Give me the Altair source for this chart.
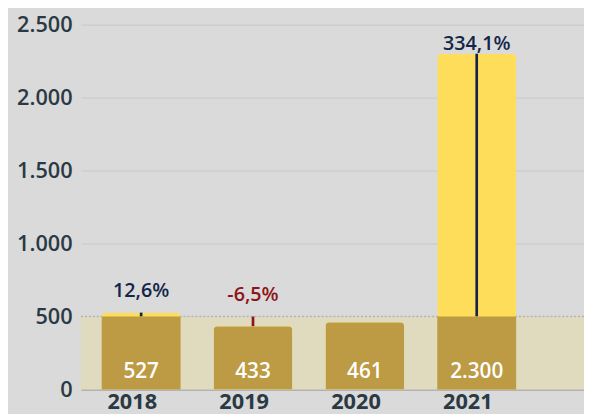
import altair as alt
import pandas as pd

# ---- data ----
years = ["2018", "2019", "2020", "2021"]
values = [527, 433, 461, 2300]
changes = [12.6, -6.5, None, 334.1]   # percent change labels (2020 has none)
threshold = [500]
y_ticks = [0, 500, 1000, 1500, 2000, 2500]

df = pd.DataFrame({"year": years, "value": values, "change": changes})
band_df = pd.DataFrame({"threshold": threshold})

W, H = 510, 370
FONT = "Open Sans"
TXT = "#2b3944"

x_scale = alt.Scale(domain=years, paddingInner=0.295, paddingOuter=0.396, align=0.234)
y_scale = alt.Scale(domain=[0, 2500], nice=False, zero=True)

x_axis = alt.Axis(title=None, labelAngle=0, labelFont=FONT, labelFontSize=22,
                  labelFontWeight=700, labelColor=TXT, labelOffset=-9, labelPadding=2,
                  ticks=False, domainColor="#a8a8a8", domainWidth=1.5, grid=False)
y_axis = alt.Axis(title=None, values=y_ticks,
                  labelExpr="replace(format(datum.value, ','), ',', '.')",
                  labelFont=FONT, labelFontSize=22, labelFontWeight=600,
                  labelColor=TXT, labelPadding=9, ticks=False, domain=False,
                  gridColor="#c8c8c8", gridWidth=1)

X = alt.X("year:N", scale=x_scale, sort=years, axis=x_axis)
COLOR = alt.Color("sign:N", scale=alt.Scale(domain=["pos", "neg"], range=["#13264a", "#8c151b"]), legend=None)

base = alt.Chart(df)

band = alt.Chart(band_df).transform_calculate(zero="0").mark_rect(color="#e0dbbf").encode(
    x=alt.value(0), x2=alt.value(W),
    y=alt.Y("zero:Q", scale=y_scale, axis=y_axis),
    y2=alt.Y2("threshold:Q"),
)

dash = alt.Chart(band_df).mark_rule(color="#b3b3b3", strokeDash=[2, 2], strokeWidth=1.5).encode(
    x=alt.value(0), x2=alt.value(W),
    y=alt.Y("threshold:Q", scale=y_scale, axis=y_axis),
)

yellow = base.mark_bar(color="#fedd5a", cornerRadiusTopLeft=4, cornerRadiusTopRight=4).encode(
    x=X, y=alt.Y("value:Q", scale=y_scale, axis=y_axis),
)

rules = base.transform_filter("isValid(datum.change)").transform_calculate(
    thr=str(threshold[0]),
    sign="datum.change < 0 ? 'neg' : 'pos'",
).mark_rule(strokeWidth=2.7).encode(
    x=X,
    y=alt.Y("value:Q", scale=y_scale, axis=y_axis),
    y2=alt.Y2("thr:Q"),
    color=COLOR,
)

dark_low = base.transform_filter(f"datum.value <= {threshold[0]}").mark_bar(
    color="#bd9a44", cornerRadiusTopLeft=4, cornerRadiusTopRight=4).encode(
    x=X, y=alt.Y("value:Q", scale=y_scale, axis=y_axis),
)
dark_high = base.transform_filter(f"datum.value > {threshold[0]}").transform_calculate(
    low=str(threshold[0])).mark_bar(color="#bd9a44").encode(
    x=X, y=alt.Y("low:Q", scale=y_scale, axis=y_axis),
)

value_text = base.transform_calculate(
    zero="0", lbl="replace(format(datum.value, ','), ',', '.')"
).mark_text(color="white", font=FONT, fontSize=21, fontWeight=600, baseline="middle", dy=-18).encode(
    x=X, y=alt.Y("zero:Q", scale=y_scale, axis=y_axis), text="lbl:N",
)

pct_base = base.transform_filter("isValid(datum.change)").transform_calculate(
    top=f"max(datum.value, {threshold[0]})",
    sign="datum.change < 0 ? 'neg' : 'pos'",
    plbl="(datum.change < 0 ? '-' : '') + replace(format(abs(datum.change), '.1f'), '.', ',') + '%'",
)
pct_enc = dict(
    x=X, y=alt.Y("top:Q", scale=y_scale, axis=y_axis), text="plbl:N", color=COLOR,
)
pct_small = pct_base.transform_filter("datum.value < 1000").mark_text(
    font=FONT, fontSize=20, fontWeight=600, baseline="alphabetic", dy=-16).encode(**pct_enc)
pct_big = pct_base.transform_filter("datum.value >= 1000").mark_text(
    font=FONT, fontSize=20, fontWeight=600, baseline="alphabetic", dy=-4).encode(**pct_enc)

chart = alt.layer(
    band, dash, yellow, rules, dark_low, dark_high, value_text, pct_small, pct_big
).properties(
    width=W, height=H,
    padding={"left": 74, "top": 14, "right": 0, "bottom": 22},
    autosize=alt.AutoSizeParams(type="none"),
).configure(background="#dadada").configure_view(stroke=None)

chart.save("out.html", embed_options={"renderer": "svg", "actions": False})
